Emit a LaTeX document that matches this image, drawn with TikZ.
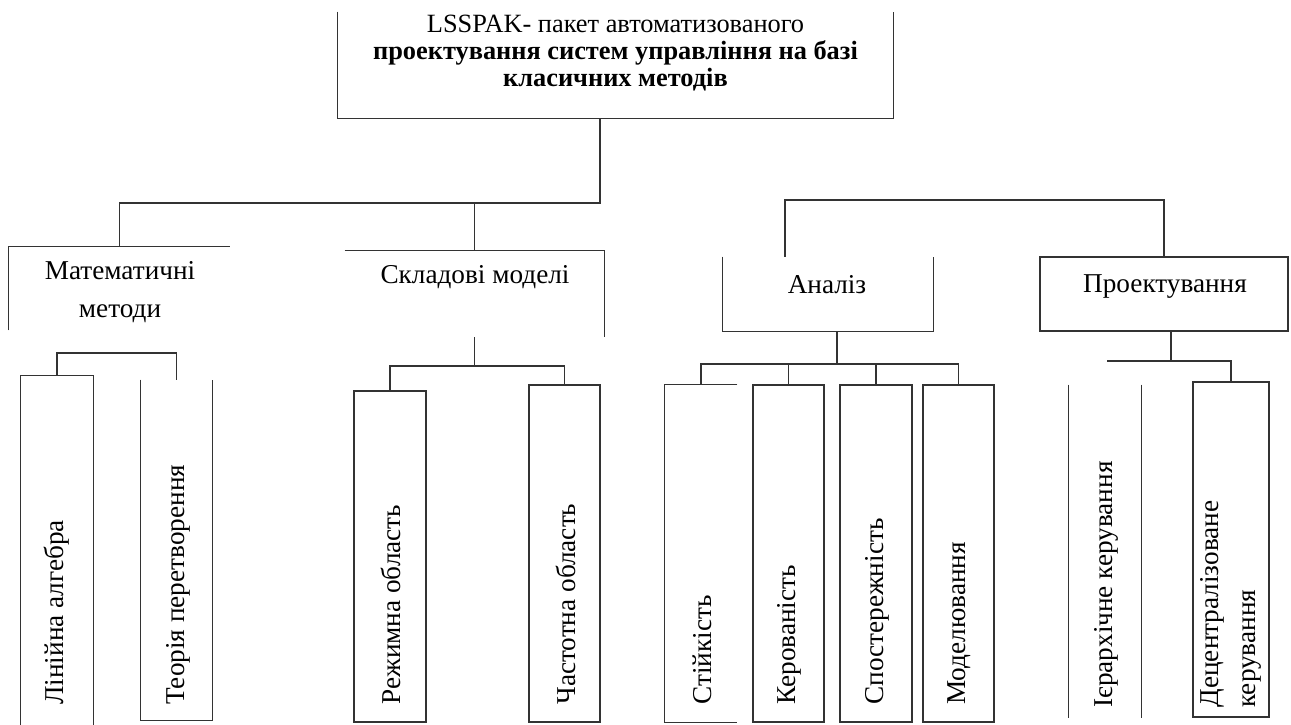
\documentclass[tikz,border=0pt]{standalone}
\usepackage{fontspec}
\setmainfont{Liberation Serif}
\tikzset{
  bx/.style 2 args={rectangle, inner sep=0pt, minimum width=#1*0.2mm, minimum height=#2*0.2mm},
  fb/.style={draw=black!80, line width=0.7pt},
  ln/.style={draw=black!80, line width=0.7pt},
  lab/.style={font=\fontsize{15.5}{22}\selectfont, inner sep=0pt, align=center},
  vlab/.style={font=\fontsize{15.5}{21}\selectfont, inner sep=0pt, rotate=90, anchor=west, align=left}
}

\begin{document}
\begin{tikzpicture}[x=0.2mm, y=-0.2mm]
\fill[white] (0,0) rectangle (1291,724);
\useasboundingbox (0,0) rectangle (1291,724);
\node[bx={555}{106}] (top) at (615.5,65) {};
\node[lab, font=\fontsize{15}{15.5}\selectfont] (toptxt) at (615.5,53) {LSSPAK- пакет автоматизованого\\\textbf{проектування систем управління на базі}\\\textbf{класичних методів}};
\node[bx={221}{83}] (math) at (119.5,288.5) {};
\node[lab] (mathtxt) at (120,292) {Математичні\\методи};
\node[bx={259}{86}] (sklad) at (474.5,294) {};
\node[lab] (skladtxt) at (475,277) {Складові моделі};
\node[bx={210}{74}] (analiz) at (828,294) {};
\node[lab] (analiztxt) at (827,285) {Аналіз};
\node[bx={248}{74}, fb] (proekt) at (1164,294) {};
\node[lab] (proekttxt) at (1165,287) {Проектування};

\node[bx={72}{350}] (lin) at (57,551) {};
\node[bx={71}{340}] (teor) at (176.5,550) {};
\node[bx={72}{331}, fb] (rezh) at (390,556.5) {};
\node[bx={71}{337}, fb] (chast) at (564.5,553.5) {};
\node[bx={72}{337}] (stiy) at (701,553.5) {};
\node[bx={71}{337}, fb] (kerov) at (788.5,553.5) {};
\node[bx={72}{337}, fb] (spost) at (876,553.5) {};
\node[bx={71}{337}, fb] (model) at (958.5,553.5) {};
\node[bx={72}{333}] (ierar) at (1105,551.5) {};
\node[bx={76}{335}, fb] (detsen) at (1231,549.5) {};

\node[vlab] (lintxt) at (57,705) {Лінійна алгебра};
\node[vlab] (teortxt) at (178,705) {Теорія перетворення};
\node[vlab] (rezhtxt) at (391,705) {Режимна область};
\node[vlab] (chasttxt) at (566,705) {Частотна область};
\node[vlab] (stiytxt) at (702,705) {Стійкість};
\node[vlab] (kerovtxt) at (789,705) {Керованість};
\node[vlab] (sposttxt) at (877,705) {Спостережність};
\node[vlab] (modeltxt) at (959,705) {Моделювання};
\node[vlab] (ierartxt) at (1106,708) {Ієрархічне керування};
\node[vlab] (detsentxt) at (1231,708) {Децентралізоване\\керування};

\draw[ln] (top.north west) -- (top.south west) -- (top.south east) -- (top.north east);
\draw[ln] (math.south west) -- (math.north west) -- (math.north east);
\draw[ln] (sklad.north west) -- (sklad.north east) -- (sklad.south east);
\draw[ln] (analiz.north west) -- (analiz.south west) -- (analiz.south east) -- (analiz.north east);
\draw[ln] (lin.south west) -- (lin.north west) -- (lin.north east) -- (lin.south east);
\draw[ln] (teor.north west) -- (teor.south west) -- (teor.south east) -- (teor.north east);
\draw[ln] (stiy.north east) -- (stiy.north west) -- (stiy.south west) -- (stiy.south east);
\draw[ln] (ierar.north west) -- (ierar.south west);
\draw[ln] (ierar.north east) -- (ierar.south east);

\coordinate (jtop) at (600,203);
\coordinate (jright) at (785,200);
\coordinate (bmath) at (0,353);
\coordinate (bsklad) at (0,366);
\coordinate (janal) at (837,364);
\coordinate (jproekt) at (1171,361);
\coordinate (bproekt) at (1107,361);

\draw[ln] (top.south -| jtop) -- (jtop) -| (math.north);
\draw[ln] (sklad.north) -- (sklad.north |- jtop);
\draw[ln] (analiz.north -| jright) -- (jright) -| (proekt.north);
\draw[ln] (lin.north) -- (lin.north |- bmath) -- (teor.north |- bmath) -- (teor.north);
\draw[ln] (sklad.south) -- (sklad.south |- bsklad);
\draw[ln] (rezh.north) -- (rezh.north |- bsklad) -- (chast.north |- bsklad) -- (chast.north);
\draw[ln] (analiz.south -| janal) -- (janal);
\draw[ln] (stiy.north) -- (stiy.north |- janal) -- (model.north |- janal) -- (model.north);
\draw[ln] (kerov.north) -- (kerov.north |- janal);
\draw[ln] (spost.north) -- (spost.north |- janal);
\draw[ln] (proekt.south -| jproekt) -- (jproekt);
\draw[ln] (bproekt) -- (detsen.north |- bproekt) -- (detsen.north);
\end{tikzpicture}
\end{document}
